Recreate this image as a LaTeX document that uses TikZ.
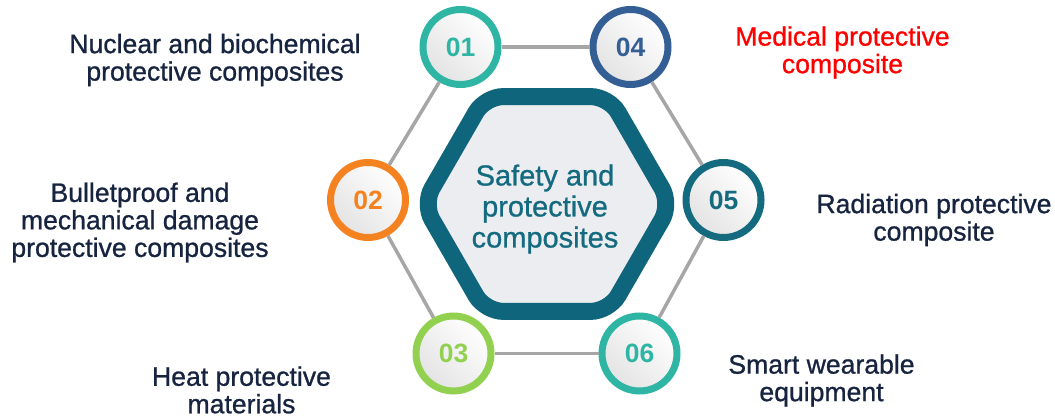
\documentclass[tikz,border=0pt]{standalone}
\usepackage{fontspec}
\setmainfont{Liberation Sans}
\newfontfamily\medfont[FakeBold=0.9]{Liberation Sans}
\usetikzlibrary{shapes.geometric}
\definecolor{navy}{HTML}{17243F}
\definecolor{tealgreen}{HTML}{2EB5A3}
\definecolor{steelblue}{HTML}{335F94}
\definecolor{orangering}{HTML}{F58220}
\definecolor{darkteal}{HTML}{146B80}
\definecolor{limegreen}{HTML}{92D050}
\definecolor{hexteal}{HTML}{0F657C}
\definecolor{hexfill}{HTML}{ECEDF0}
\definecolor{linkgray}{HTML}{A6A6A6}
\begin{document}
\begin{tikzpicture}[x=1pt,y=-1pt,
    numcircle/.style={circle, draw=#1, line width=7pt, minimum size=75pt, inner sep=0pt,
        left color=gray!22, right color=white, shading angle=135,
        text=#1, font=\fontsize{26.5}{26.5}\selectfont\bfseries},
    link/.style={draw=linkgray, line width=3.5pt},
    hexcore/.style={regular polygon, regular polygon sides=6, minimum size=248pt,
        draw=hexteal, fill=hexfill, line width=17pt, rounded corners=18pt, inner sep=0pt},
    coretext/.style={align=center, inner sep=0pt, text=darkteal, font=\fontsize{29}{31}\medfont},
    topic/.style={align=center, inner sep=0pt, text=navy, font=\fontsize{26.6}{27.5}\medfont}]
    \useasboundingbox (0,0) rectangle (1055,419);
    \node[numcircle=tealgreen] (n01) at (460.5,47) {01};
    \node[numcircle=steelblue] (n04) at (630.5,47) {04};
    \node[numcircle=orangering] (n02) at (368,200) {02};
    \node[numcircle=darkteal] (n05) at (723.5,200) {05};
    \node[numcircle=limegreen] (n03) at (453.5,353.5) {03};
    \node[numcircle=tealgreen] (n06) at (639.5,353.5) {06};
    \foreach \a/\b in {n01/n04, n04/n05, n05/n06, n06/n03, n03/n02, n02/n01}
        \draw[link] (\a) -- (\b);
    \node[hexcore] (core) at (547,204) {};
    \node[coretext] (title) at (545,209) {Safety and\\protective\\composites};
    \node[topic] (t01) at (215,60) {Nuclear and biochemical\\protective composites};
    \node[topic, text=red] (t04) at (842.5,52.5) {Medical protective\\composite};
    \node[topic] (t02) at (140,222.5) {Bulletproof and\\mechanical damage\\protective composites};
    \node[topic] (t05) at (934,220) {Radiation protective\\composite};
    \node[topic] (t03) at (241.5,390) {Heat protective\\materials};
    \node[topic] (t06) at (821.5,380.5) {Smart wearable\\equipment};
\end{tikzpicture}
\end{document}
